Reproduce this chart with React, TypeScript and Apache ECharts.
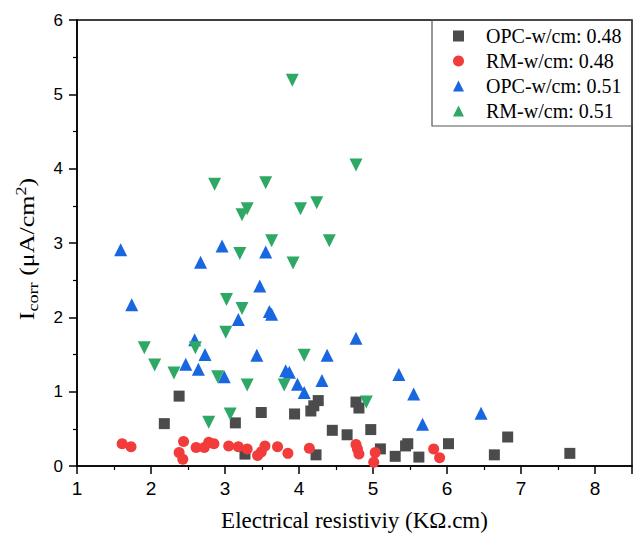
import React, { useEffect, useRef } from 'react';
import * as echarts from 'echarts';

const seriesNames = ['OPC-w/cm: 0.48', 'RM-w/cm: 0.48', 'OPC-w/cm: 0.51', 'RM-w/cm: 0.51'];

const opc048: number[][] = [
  [2.18, 0.57], [2.38, 0.94], [3.14, 0.58], [3.27, 0.16], [3.49, 0.72], [3.94, 0.70],
  [4.16, 0.74], [4.20, 0.81], [4.26, 0.88], [4.23, 0.15], [4.45, 0.48], [4.65, 0.42],
  [4.77, 0.86], [4.81, 0.78], [4.97, 0.49], [5.10, 0.23], [5.30, 0.13], [5.44, 0.27],
  [5.47, 0.30], [5.62, 0.12], [6.02, 0.30], [6.64, 0.15], [6.82, 0.39], [7.66, 0.17],
];

const rm048: number[][] = [
  [1.61, 0.30], [1.73, 0.26], [2.38, 0.18], [2.43, 0.09], [2.44, 0.33], [2.61, 0.25],
  [2.72, 0.25], [2.78, 0.32], [2.85, 0.30], [3.05, 0.27], [3.18, 0.26], [3.30, 0.23],
  [3.44, 0.14], [3.49, 0.19], [3.54, 0.27], [3.71, 0.26], [3.85, 0.17], [4.14, 0.24],
  [4.77, 0.29], [4.79, 0.23], [4.81, 0.16], [5.01, 0.05], [5.03, 0.18], [5.82, 0.23],
  [5.90, 0.11],
];

const opc051: number[][] = [
  [1.59, 2.91], [1.74, 2.17], [2.47, 1.37], [2.59, 1.70], [2.64, 1.30], [2.67, 2.74],
  [2.73, 1.50], [2.96, 2.96], [2.99, 1.20], [3.18, 1.97], [3.43, 1.49], [3.47, 2.42],
  [3.55, 2.88], [3.60, 2.08], [3.63, 2.04], [3.82, 1.28], [3.87, 1.26], [3.98, 1.10],
  [4.07, 0.99], [4.31, 1.15], [4.38, 1.49], [4.77, 1.72], [5.35, 1.23], [5.55, 0.97],
  [5.67, 0.56], [6.46, 0.71],
];

const rm051: number[][] = [
  [1.91, 1.59], [2.05, 1.36], [2.31, 1.25], [2.60, 1.59], [2.78, 0.59], [2.86, 3.79],
  [2.90, 1.20], [3.01, 1.80], [3.02, 2.24], [3.07, 0.70], [3.20, 2.86], [3.23, 2.12],
  [3.23, 3.38], [3.30, 3.46], [3.30, 1.09], [3.55, 3.81], [3.63, 3.03], [3.80, 1.09],
  [3.91, 5.19], [3.92, 2.73], [4.02, 3.46], [4.07, 1.49], [4.24, 3.54], [4.41, 3.03],
  [4.77, 4.05], [4.91, 0.86],
];

const xTicks = [1, 2, 3, 4, 5, 6, 7, 8];
const yTicks = [0, 1, 2, 3, 4, 5, 6];
const xTitle = 'Electrical resistiviy (KΩ.cm)';
const yTitle = '{a|I}{sub|corr}{a| (μA/cm}{sup|2}{a|)}';

const serif = 'Liberation Serif';
const sans = 'Liberation Sans';

export default function App() {
  const ref = useRef<HTMLDivElement>(null);
  useEffect(() => {
    const chart = echarts.init(ref.current!, null, { renderer: 'svg' });
    const axisCommon = {
      axisLine: { show: true, onZero: false, lineStyle: { color: '#000', width: 1.5 } },
      axisTick: { show: true, inside: false, length: 8, lineStyle: { color: '#000', width: 1.5 } },
      minorTick: { show: true, splitNumber: 2, length: 4, lineStyle: { color: '#000', width: 1.2 } },
      splitLine: { show: false },
      minorSplitLine: { show: false },
    };
    chart.setOption({
      animation: false,
      backgroundColor: '#fff',
      grid: { left: 77, right: 8, top: 20, bottom: 70, show: true, borderColor: '#000', borderWidth: 1.5 },
      xAxis: {
        type: 'value',
        min: 1,
        max: 8.5,
        interval: 1,
        ...axisCommon,
        axisLabel: {
          fontFamily: sans,
          fontSize: 19,
          color: '#000',
          margin: 13,
          formatter: (v: number) => (xTicks.includes(v) ? String(v) : ''),
        },
        name: xTitle,
        nameLocation: 'middle',
        nameGap: 43,
        nameTextStyle: { fontFamily: serif, fontSize: 23, color: '#000' },
      },
      yAxis: {
        type: 'value',
        min: 0,
        max: 6,
        interval: 1,
        ...axisCommon,
        axisLabel: {
          fontFamily: sans,
          fontSize: 17,
          color: '#000',
          margin: 14,
          formatter: (v: number) => (yTicks.includes(v) ? String(v) : ''),
        },
      },
      legend: {
        data: seriesNames,
        orient: 'vertical',
        left: 453,
        top: 26,
        itemGap: 5,
        itemWidth: 11,
        itemHeight: 11,
        padding: 0,
        textStyle: { fontFamily: serif, fontSize: 20, color: '#000', padding: [0, 0, 0, 17] },
      },
      graphic: [
        {
          type: 'rect',
          shape: { x: 432, y: 20, width: 200, height: 106 },
          style: { fill: 'none', stroke: '#555', lineWidth: 1.2 },
          z: 10,
        },
        {
          type: 'text',
          x: 27,
          y: 249,
          rotation: Math.PI / 2,
          scaleX: 1.3,
          scaleY: 1.05,
          style: {
            text: yTitle,
            align: 'center',
            verticalAlign: 'middle',
            fill: '#000',
            font: `20px ${serif}`,
            rich: {
              a: { fontFamily: serif, fontSize: 20, fill: '#000', lineHeight: 26 },
              sub: { fontFamily: serif, fontSize: 14, fill: '#000', lineHeight: 26, verticalAlign: 'bottom' },
              sup: { fontFamily: serif, fontSize: 14, fill: '#000', lineHeight: 26, verticalAlign: 'top' },
            },
          },
          z: 10,
        },
      ],
      series: [
        { name: seriesNames[0], type: 'scatter', data: opc048, symbol: 'rect', symbolSize: 11, itemStyle: { color: '#4b4b4b', opacity: 1 } },
        { name: seriesNames[1], type: 'scatter', data: rm048, symbol: 'circle', symbolSize: 11, itemStyle: { color: '#f23b3b', opacity: 1 } },
        { name: seriesNames[2], type: 'scatter', data: opc051, symbol: 'triangle', symbolSize: 13, itemStyle: { color: '#1866e0', opacity: 1 } },
        { name: seriesNames[3], type: 'scatter', data: rm051, symbol: 'triangle', symbolRotate: 180, symbolSize: 13, itemStyle: { color: '#2ea865', opacity: 1 } },
      ],
    });
    return () => chart.dispose();
  }, []);
  return <div ref={ref} style={{ position: 'fixed', left: 0, top: 0, width: 640, height: 537 }} />;
}
